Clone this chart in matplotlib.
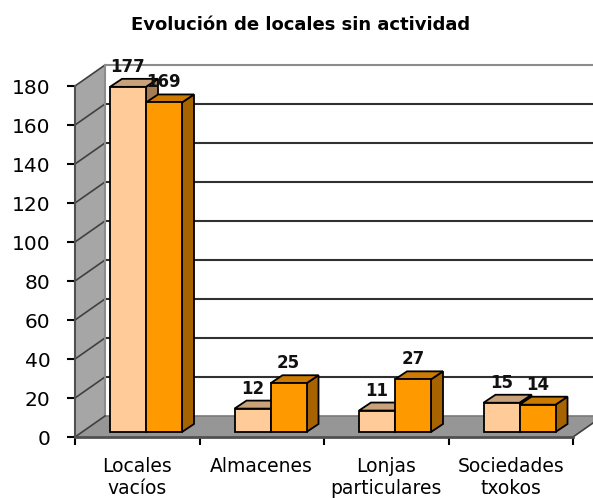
import matplotlib
matplotlib.use('Agg')
import matplotlib.pyplot as plt
from matplotlib.patches import Polygon

plt.rcParams['font.family'] = ['DejaVu Sans']

TITLE = 'Evolución de locales sin actividad'
categories = ['Locales\nvacíos', 'Almacenes', 'Lonjas\nparticulares', 'Sociedades\ntxokos']
series_a = [177, 12, 11, 15]
series_b = [169, 25, 27, 14]
y_ticks = [0, 20, 40, 60, 80, 100, 120, 140, 160, 180]

W, H = 593, 498
LEFT, RIGHT, TOP, BOTTOM = 75, 573, 86, 437

# pseudo 3d depth, in pixels
DEPTH_X, DEPTH_Y = 30, 21
BAR_DX, BAR_DY = 12, 8
FLOOR_X, FLOOR_Y = 7, 5
GAP, BAR_W = 28, 36

LIGHT = ('#FFCC99', '#C9A27B', '#A67C52')
DARK = ('#FF9900', '#CC7A00', '#A66300')

fig = plt.figure(figsize=(W / 100, H / 100), dpi=100)
ax = fig.add_axes([LEFT / W, 1 - BOTTOM / H, (RIGHT - LEFT) / W, (BOTTOM - TOP) / H])
ax.set_xlim(0, len(categories))
ax.set_ylim(0, max(y_ticks))
ax.patch.set_visible(False)

# pixels to data units
ux = len(categories) / (RIGHT - LEFT)
uy = max(y_ticks) / (BOTTOM - TOP)
dx, dy = DEPTH_X * ux, DEPTH_Y * uy


def poly(points, color, edge='none', lw=0, z=1):
    ax.add_patch(Polygon(points, closed=True, facecolor=color, edgecolor=edge,
                         linewidth=lw, clip_on=False, zorder=z, joinstyle='miter'))


def bar3d(x0, value, colors, z):
    x1 = x0 + BAR_W * ux
    y0 = FLOOR_Y * uy
    y1 = y0 + value
    bx, by = BAR_DX * ux, BAR_DY * uy
    poly([(x1, y0), (x1 + bx, y0 + by), (x1 + bx, y1 + by), (x1, y1)], colors[2], 'black', 1.3, z)
    poly([(x0, y1), (x1, y1), (x1 + bx, y1 + by), (x0 + bx, y1 + by)], colors[1], 'black', 1.3, z)
    poly([(x0, y0), (x1, y0), (x1, y1), (x0, y1)], colors[0], 'black', 1.3, z)
    ax.annotate(str(value), ((x0 + x1) / 2, y1), xytext=(0, 20), textcoords='offset pixels',
                ha='center', va='center', fontsize=12, fontweight='bold', color='#111111',
                annotation_clip=False, zorder=20)


top = max(y_ticks)
n = len(categories)

# walls and floor
poly([(0, 0), (dx, dy), (dx, top + dy), (0, top)], '#A6A6A6', z=1)
poly([(0, 0), (n, 0), (n + dx, dy), (dx, dy)], '#969696', z=1)
for v in y_ticks[1:]:
    line_color = '#8C8C8C' if v == top else '#303030'
    ax.plot([dx, n + dx], [v + dy, v + dy], color=line_color, lw=1.5, clip_on=False, zorder=2)
    ax.plot([0, dx], [v, v + dy], color='#404040', lw=1.2, clip_on=False, zorder=2)
ax.plot([dx, dx], [dy, top + dy], color='#8C8C8C', lw=1.5, clip_on=False, zorder=2)
ax.plot([dx, n + dx], [dy, dy], color='#7A7A7A', lw=1.2, clip_on=False, zorder=2)
ax.plot([0, dx], [0, dy], color='#404040', lw=1.2, clip_on=False, zorder=2)
ax.plot([n, n + dx], [0, dy], color='#404040', lw=1.2, clip_on=False, zorder=2)

# bars
for i in range(n):
    start = i + (FLOOR_X + GAP) * ux
    bar3d(start, series_a[i], LIGHT, 5 + i * 2)
    bar3d(start + BAR_W * ux, series_b[i], DARK, 6 + i * 2)

# axes
for side in ('top', 'right'):
    ax.spines[side].set_visible(False)
ax.spines['left'].set_color('#505050')
ax.spines['left'].set_linewidth(1.5)
ax.spines['bottom'].set_color('#505050')
ax.spines['bottom'].set_linewidth(2)
ax.spines['left'].set_zorder(3)
ax.spines['bottom'].set_zorder(3)

ax.set_yticks(y_ticks)
ax.tick_params(axis='y', length=5.5, width=1.5, pad=12, labelsize=14.5)
ax.set_xticks(range(n + 1))
ax.set_xticklabels([])
ax.tick_params(axis='x', which='major', length=5.5, width=1.5)
ax.set_xticks([i + 0.5 for i in range(n)], minor=True)
ax.set_xticklabels(categories, minor=True, fontsize=13.5, linespacing=1.2)
ax.tick_params(axis='x', which='minor', length=0, pad=14.5)

fig.text(301 / W, 1 - 25 / H, TITLE, ha='center', va='center', fontsize=13, fontweight='bold')

fig.savefig('out.png', dpi=100)
plt.close(fig)
